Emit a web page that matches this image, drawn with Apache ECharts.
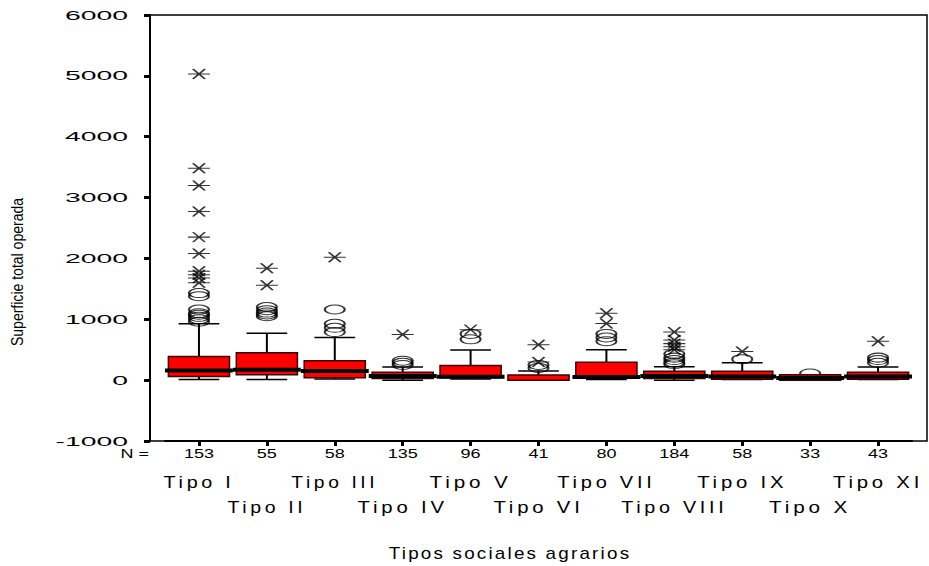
<!DOCTYPE html>
<html>
<head>
<meta charset="utf-8">
<script src="https://cdn.jsdelivr.net/npm/echarts@6/dist/echarts.min.js"></script>
<style>
  html, body { margin: 0; padding: 0; background: #fff; }
  #chart { width: 929px; height: 566px; }
</style>
</head>
<body>
<div id="chart"></div>
<script>
var categories = ['Tipo I', 'Tipo II', 'Tipo III', 'Tipo IV', 'Tipo V', 'Tipo VI',
                  'Tipo VII', 'Tipo VIII', 'Tipo IX', 'Tipo X', 'Tipo XI'];
var counts = [153, 55, 58, 135, 96, 41, 80, 184, 58, 33, 43];

// box: whisker min, Q1, median, Q3, whisker max
var boxMin    = [10, 10, 20, 0, 20, 0, 10, 0, 10, 0, 10];
var boxQ1     = [60, 90, 40, 25, 40, 0, 30, 25, 15, 0, 15];
var boxMedian = [160, 170, 150, 70, 55, null, 50, 70, 60, 35, 60];
var boxQ3     = [390, 450, 320, 130, 240, 85, 295, 145, 145, 90, 130];
var boxMax    = [925, 770, 700, 215, 495, 150, 500, 220, 285, 90, 215];

// outliers (circles) and extremes (asterisks)
var outliers = [
    [960, 1000, 1040, 1075, 1100, 1160, 1380, 1430],
    [1050, 1080, 1110, 1150, 1200],
    [790, 860, 925, 1160],
    [250, 285, 320],
    [670, 760],
    [200, 250],
    [640, 700, 760],
    [260, 290, 330, 370, 430],
    [345],
    [110],
    [285, 330, 370]
];
var extremes = [
    [1600, 1680, 1730, 1790, 2080, 2350, 2770, 3200, 3480, 5030],
    [1560, 1840],
    [2020],
    [750],
    [830],
    [300, 580],
    [930, 1100],
    [500, 550, 600, 660, 790],
    [470],
    [],
    [640]
];

var yTicks = { min: -1000, max: 6000, interval: 1000 };
var font = 'Liberation Sans, Arial, sans-serif';

var boxData = categories.map(function (c, i) {
    return [i, boxMin[i], boxQ1[i], boxMedian[i], boxQ3[i], boxMax[i]];
});
var outlierData = [];
var extremeData = [];
categories.forEach(function (c, i) {
    outliers[i].forEach(function (v) { outlierData.push([i, v]); });
    extremes[i].forEach(function (v) { extremeData.push([i, v]); });
});

function renderBox(params, api) {
    var i = api.value(0);
    var band = api.size([1, 0])[0];
    var cx = api.coord([i, 0])[0];
    var yMin = api.coord([i, api.value(1)])[1];
    var yQ1 = api.coord([i, api.value(2)])[1];
    var med = api.value(3);
    var yQ3 = api.coord([i, api.value(4)])[1];
    var yMax = api.coord([i, api.value(5)])[1];
    var boxHalf = band * 0.45, capHalf = band * 0.3;
    var line = { stroke: '#000', lineWidth: 2 };
    var children = [
        { type: 'line', shape: { x1: cx, y1: yQ3, x2: cx, y2: yMax }, style: line },
        { type: 'line', shape: { x1: cx, y1: yQ1, x2: cx, y2: yMin }, style: line },
        { type: 'line', shape: { x1: cx - capHalf, y1: yMax, x2: cx + capHalf, y2: yMax }, style: { stroke: '#000', lineWidth: 1.5 } },
        { type: 'line', shape: { x1: cx - capHalf, y1: yMin, x2: cx + capHalf, y2: yMin }, style: { stroke: '#000', lineWidth: 1.5 } },
        { type: 'rect', shape: { x: cx - boxHalf, y: yQ3, width: boxHalf * 2, height: yQ1 - yQ3 },
          style: { fill: '#ff0000', stroke: '#3a0000', lineWidth: 1.5 } }
    ];
    if (med != null && !isNaN(med)) {
        var yMed = api.coord([i, med])[1];
        children.push({ type: 'line', shape: { x1: cx - band / 2, y1: yMed, x2: cx + band / 2, y2: yMed },
                        style: { stroke: '#000', lineWidth: 4 } });
    }
    return { type: 'group', children: children };
}

var dom = document.getElementById('chart');
var myChart = echarts.init(dom, null, { renderer: 'svg' });

var option = {
    animation: false,
    backgroundColor: '#fff',
    grid: [
        { left: 150, right: 2, top: 15, bottom: 125, show: true, borderColor: '#000', borderWidth: 1.5 },
        { left: 165, right: 17, top: 15, bottom: 125 }
    ],
    xAxis: [
        { gridIndex: 0, type: 'value', show: false },
        {
            gridIndex: 1, type: 'category', data: categories, boundaryGap: true,
            axisLine: { show: true, onZero: false, lineStyle: { color: '#000', width: 2 } },
            axisTick: { show: true, alignWithLabel: true, length: 5, lineStyle: { color: '#000', width: 3 } },
            axisLabel: {
                interval: 0, margin: 7, color: '#000', fontSize: 12, fontFamily: font,
                formatter: function (v, i) { return String(counts[i]); }
            },
            name: 'N =', nameLocation: 'start', nameGap: 16,
            nameTextStyle: { color: '#000', fontSize: 12, fontFamily: font, verticalAlign: 'top', padding: [7, 0, 0, 0] }
        },
        {
            gridIndex: 1, type: 'category', data: categories, boundaryGap: true, position: 'bottom',
            axisLine: { show: false, onZero: false }, axisTick: { show: false },
            axisLabel: {
                interval: 0, margin: 29, color: '#000', fontSize: 16, fontFamily: font, lineHeight: 25,
                formatter: function (v, i) { return i % 2 ? '\n' + v : v; }
            }
        }
    ],
    yAxis: [
        { gridIndex: 0, type: 'value', show: false },
        {
            gridIndex: 1, type: 'value', min: yTicks.min, max: yTicks.max, interval: yTicks.interval,
            offset: 15,
            axisLine: { show: true, lineStyle: { color: '#000', width: 2 } },
            axisTick: { show: true, length: 6, lineStyle: { color: '#000', width: 3 } },
            axisLabel: { margin: 22, color: '#000', fontSize: 13, fontFamily: font,
                         formatter: function (v) { return String(v); } },
            splitLine: { show: false }
        }
    ],
    graphic: [
        { type: 'text', x: 510, y: 553,
          style: { text: 'Tipos sociales agrarios', fill: '#000', fontSize: 17, fontFamily: font, align: 'center', verticalAlign: 'middle' } },
        { type: 'text', x: 17, y: 272, rotation: Math.PI / 2,
          style: { text: 'Superficie total operada', fill: '#000', fontSize: 16.5, fontFamily: font, align: 'center', verticalAlign: 'middle' } }
    ],
    series: [
        {
            name: 'Atípicos', type: 'scatter', xAxisIndex: 1, yAxisIndex: 1, z: 2,
            symbol: 'path://M0,5A11,5,0,1,1,22,5A11,5,0,1,1,0,5Z', symbolSize: [20, 9],
            itemStyle: { color: 'rgba(0,0,0,0)', borderColor: '#000', borderWidth: 1.5 },
            data: outlierData
        },
        {
            name: 'Extremos', type: 'scatter', xAxisIndex: 1, yAxisIndex: 1, z: 2,
            symbol: 'path://M0,5L22,5M5,0L17,10M17,0L5,10', symbolSize: [22, 10],
            itemStyle: { color: 'rgba(0,0,0,0)', borderColor: '#000', borderWidth: 1.5 },
            data: extremeData
        },
        {
            name: 'Cajas', type: 'custom', xAxisIndex: 1, yAxisIndex: 1, z: 3,
            renderItem: renderBox,
            encode: { x: 0, y: [1, 2, 4, 5] },
            data: boxData
        }
    ]
};

// the source picture is stretched horizontally: widen/narrow the texts the same way
// [width factor, extra letter spacing] by font size
var stretchBySize = {
    '13': [2.18, 0],
    '12': [1.5, 0],
    '16': [1.8, 3],
    '17': [1.4, 2],
    '16.5': [0.85, 0]
};
function stretchText() {
    var texts = dom.querySelectorAll('svg text');
    Array.prototype.forEach.call(texts, function (t) {
        var fs = String(parseFloat(getComputedStyle(t).fontSize));
        var k = stretchBySize[fs];
        if (!k || !t.textContent) return;
        if (!t.getAttribute('data-w')) t.setAttribute('data-w', t.getComputedTextLength());
        if (k[1]) t.style.letterSpacing = k[1] + 'px';
        t.setAttribute('textLength', parseFloat(t.getAttribute('data-w')) * k[0]);
        t.setAttribute('lengthAdjust', 'spacingAndGlyphs');
    });
}

if (option && typeof option === "object") {
    myChart.setOption(option, true);
}
stretchText();
myChart.on('finished', stretchText);

window.addEventListener("resize", function () {
    myChart.resize();
});
</script>
</body>
</html>
